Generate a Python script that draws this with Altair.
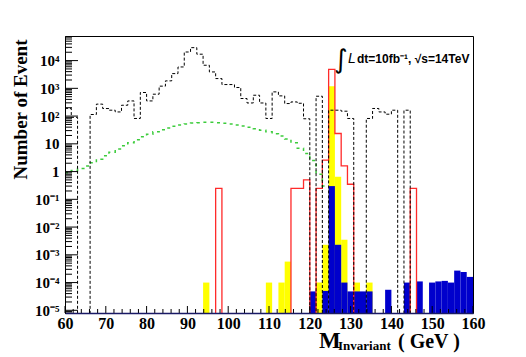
import json
import altair as alt
import pandas as pd

# ---------------- data ----------------
X_MIN, X_MAX, N_BINS = 60.0, 160.0, 65
Y_MIN, Y_MAX = 8e-6, 7.7e4
PLOT_W, PLOT_H = 408, 277

# black dashed background histogram (65 bins)
black_vals = [190, 90, 0, 0, 114, 270, 187, 163, 141, 246,
              352, 82, 708, 352, 615, 1200, 1860, 3400, 5900, 20400,
              29300, 17000, 6800, 3900, 2250, 1370, 1370, 1070, 430, 297,
              565, 297, 82, 745, 535, 283, 324, 290, 80, 0,
              520, 0, 163, 163, 150, 82, 0, 0, 82, 188,
              141, 117, 163, 0, 163, 0, 0, 0, 0, 0,
              0, 0, 0, 0, 0]

# green dotted smooth histogram (bins 0..41)
green_vals = [0.9, 1.1, 1.3, 1.6, 2.1, 2.8, 3.7, 5.0, 6.5, 8.5,
              11, 14, 18, 22, 27, 32, 37, 43, 48, 52,
              56, 58, 60, 60, 58, 55, 52, 48, 44, 40,
              35, 31, 27, 23, 19, 15, 11, 7, 4.5, 2.5,
              0.8, 0.3]

# red outline histogram (sparse: bin index -> value)
red_bins = [24, 36, 37, 38, 40, 41, 42, 43, 44, 45, 55]
red_vals = [0.25, 0.25, 0.25, 0.5, 0.25, 2.6, 4800, 23.6, 1.6, 0.35, 0.25]

# yellow filled histogram
yellow_bins = [22, 32, 34, 35, 40, 41, 42, 43, 44, 46, 48]
yellow_vals = [1e-4, 1e-4, 1e-4, 5.7e-4, 1e-4, 2.3e-3, 1200, 0.65, 3.5e-3, 1e-4, 1e-4]

# blue filled histogram
blue_bins = [39, 41, 42, 43, 44, 45, 46, 47, 48, 51, 54, 56, 58, 59, 60, 61, 62, 63, 64]
blue_vals = [4.8e-5, 5e-5, 0.3, 2.3e-3, 1e-4, 4.8e-5, 4.8e-5, 4.8e-5, 4.8e-5, 5.5e-5,
             1e-4, 1.1e-4, 1e-4, 1.1e-4, 1.15e-4, 1e-4, 2.7e-4, 2.4e-4, 1.6e-4]

x_tick_values = [60, 70, 80, 90, 100, 110, 120, 130, 140, 150, 160]
y_tick_values = [1e-5, 1e-4, 1e-3, 1e-2, 1e-1, 1, 10, 1e2, 1e3, 1e4]
y_tick_labels = ["10⁻⁵", "10⁻⁴", "10⁻³", "10⁻²", "10⁻¹", "1", "10", "10²", "10³", "10⁴"]

y_title = "Number of Event"
x_title_main = "M"
x_title_sub = "Invariant"
x_title_unit = "( GeV )"
lumi_int = "∫"
lumi_L = "L"
lumi_text = "dt=10fb⁻¹, √s=14TeV"

# ---------------- helpers ----------------
BW = (X_MAX - X_MIN) / N_BINS
edges = [X_MIN + i * BW for i in range(N_BINS + 1)]
FLOOR = 1e-8   # empty bins fall below the frame and are clipped


def full(bins, vals):
    arr = [0.0] * N_BINS
    for b, v in zip(bins, vals):
        arr[b] = v
    return arr


def step_df(vals):
    xs = edges[: len(vals) + 1]
    ys = [max(v, FLOOR) for v in vals] + [max(vals[-1], FLOOR)]
    return pd.DataFrame({"x": xs, "y": ys})


def rect_df(bins, vals):
    return pd.DataFrame({"x": [edges[b] for b in bins],
                         "x2": [edges[b + 1] for b in bins],
                         "y": vals})


xscale = alt.Scale(domain=[X_MIN, X_MAX], nice=False, zero=False)
yscale = alt.Scale(type="log", domain=[Y_MIN, Y_MAX], nice=False)

label_expr = json.dumps(y_tick_labels) + "[round(log(datum.value)/LN10)+5]"

x_axis = alt.Axis(values=x_tick_values, format="d", title=None, ticks=False, grid=False,
                  labelFont="Liberation Serif", labelFontWeight="bold", labelFontSize=16,
                  labelColor="black", labelPadding=2, labelFlush=False,
                  domainColor="#1a1a66", domainWidth=1.5, zindex=1)
y_axis = alt.Axis(values=y_tick_values, labelExpr=label_expr, ticks=False, grid=False,
                  labelFont="Liberation Serif", labelFontWeight="bold", labelFontSize=15,
                  labelColor="black", labelPadding=6, labelOverlap=False, labelFlush=False,
                  domainColor="black", domainWidth=1, zindex=1,
                  title=y_title, titleFont="Liberation Serif", titleFontWeight="bold",
                  titleFontSize=19, titleColor="black", titleAngle=270, titleX=-45, titleY=73,
                  titleAlign="center", titleBaseline="middle")

X = alt.X("x:Q", scale=xscale, axis=x_axis)
Y = alt.Y("y:Q", scale=yscale, axis=y_axis)

# ---------------- layers ----------------
yellow = alt.Chart(rect_df(yellow_bins, yellow_vals)).mark_rect(color="#ffff00").encode(
    x=X, x2="x2:Q", y=Y, y2=alt.datum(Y_MIN))
blue = alt.Chart(rect_df(blue_bins, blue_vals)).mark_rect(color="#0000cc").encode(
    x=X, x2="x2:Q", y=Y, y2=alt.datum(Y_MIN))

red = alt.Chart(step_df(full(red_bins, red_vals))).mark_line(
    interpolate="step-after", color="#ff2a2a", strokeWidth=1.3, clip=True).encode(x=X, y=Y)
green = alt.Chart(step_df(green_vals)).mark_line(
    interpolate="step-after", color="#3ccc3c", strokeWidth=1.5, strokeDash=[3, 4],
    clip=True).encode(x=X, y=Y)
black = alt.Chart(step_df(black_vals)).mark_line(
    interpolate="step-after", color="black", strokeWidth=1, strokeDash=[3, 2],
    clip=True).encode(x=X, y=Y)

# inside ticks (ROOT style)
x_major = pd.DataFrame({"x": x_tick_values})
x_minor = pd.DataFrame({"x": [v for v in range(62, 160, 2) if v % 10 != 0]})
y_major = pd.DataFrame({"y": y_tick_values})
y_minor = pd.DataFrame({"y": [k * 10.0 ** e for e in range(-6, 5) for k in range(2, 10)
                              if Y_MIN <= k * 10.0 ** e <= Y_MAX]})

xt1 = alt.Chart(x_major).mark_rule(color="black", strokeWidth=1).encode(
    x=X, y=alt.value(PLOT_H), y2=alt.value(PLOT_H - 7))
xt2 = alt.Chart(x_minor).mark_rule(color="black", strokeWidth=1).encode(
    x=X, y=alt.value(PLOT_H), y2=alt.value(PLOT_H - 4))
yt1 = alt.Chart(y_major).mark_rule(color="black", strokeWidth=1).encode(
    y=Y, x=alt.value(0), x2=alt.value(13))
yt2 = alt.Chart(y_minor).mark_rule(color="black", strokeWidth=1).encode(
    y=Y, x=alt.value(0), x2=alt.value(7))

one = pd.DataFrame({"a": [0]})


def label(text, x, y, size, font, weight="bold", style="normal", align="left"):
    return alt.Chart(one).mark_text(text=text, font=font, fontSize=size, fontWeight=weight,
                                    fontStyle=style, align=align, baseline="alphabetic",
                                    color="black").encode(x=alt.value(x), y=alt.value(y))


t_m = label(x_title_main, 254, 312, 23, "Liberation Serif")
t_sub = label(x_title_sub, 273, 314, 13, "Liberation Serif")
t_unit = label(x_title_unit, 333, 312, 20, "Liberation Serif")
t_int = label(lumi_int, 269, 32, 26, "DejaVu Sans", weight="normal")
t_L = label(lumi_L, 283, 27, 14, "Liberation Sans", weight="normal", style="italic")
t_txt = label(lumi_text, 292, 27, 12, "Liberation Sans")

chart = alt.layer(
    yellow, blue, red, green, black, xt1, xt2, yt1, yt2,
    t_m, t_sub, t_unit, t_int, t_L, t_txt
).properties(
    width=PLOT_W, height=PLOT_H,
    autosize=alt.AutoSizeParams(type="none"),
    padding={"left": 57, "top": 28, "right": 40, "bottom": 41},
).configure_view(stroke="black", strokeWidth=1)

chart.save("out.html", embed_options={"renderer": "svg", "actions": False})
